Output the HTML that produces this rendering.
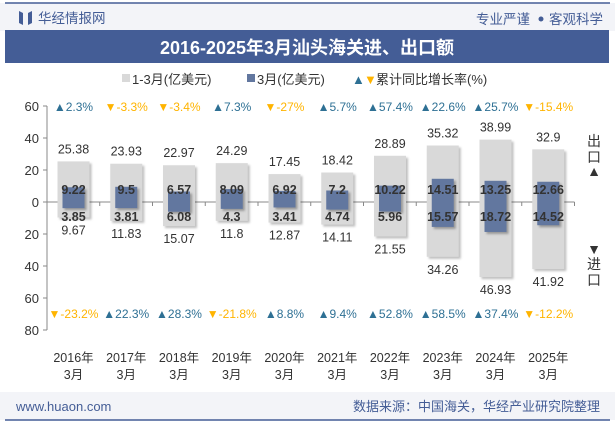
<!DOCTYPE html>
<html><head><meta charset="utf-8"><style>
body{margin:0;width:615px;height:427px;background:#fff;font-family:"Liberation Sans","Noto Sans CJK SC",sans-serif;overflow:hidden}
svg text{font-family:"Liberation Sans","Noto Sans CJK SC",sans-serif}
</style></head><body>
<svg id="c" width="615" height="427">
<rect x="0" y="3" width="615" height="28" fill="#f3f4f8"/>
<line x1="5" y1="3" x2="610" y2="3" stroke="#445d96" stroke-width="1.5"/>
<path d="M19 11 L23 13 L23 25 L19 23 Z M28 13 L32 11 L32 23 L28 25 Z" fill="#445d96"/>
<text x="38" y="23" font-size="13.5" fill="#445d96">华经情报网</text>
<text x="530" y="24" font-size="13.5" fill="#445d96" text-anchor="end">专业严谨</text>
<circle cx="541" cy="19" r="2.5" fill="#445d96"/>
<text x="603" y="24" font-size="13.5" fill="#445d96" text-anchor="end">客观科学</text>
<rect x="5" y="30" width="604" height="33" fill="#445d96"/>
<text x="307" y="54" font-size="18" font-weight="bold" fill="#fff" text-anchor="middle" font-family="Liberation Serif,Noto Serif CJK SC,serif">2016-2025年3月汕头海关进、出口额</text>
<g font-size="13" fill="#333">
<rect x="122" y="74" width="8" height="8" fill="#d9d9d9"/><text x="132" y="84">1-3月(亿美元)</text>
<rect x="247" y="74" width="8" height="8" fill="#62779f"/><text x="257" y="84">3月(亿美元)</text>
<text x="352" y="84" fill="#2e7094">▲</text><text x="364" y="84" fill="#ffb400">▼</text><text x="376" y="84">累计同比增长率(%)</text>
</g>
<rect x="0" y="392" width="615" height="28" fill="#f3f4f8"/>
<line x1="5" y1="420" x2="610" y2="420" stroke="#445d96" stroke-width="1.5"/>
<text x="16" y="411" font-size="13" fill="#445d96">www.huaon.com</text>
<text x="600" y="411" font-size="13" fill="#445d96" text-anchor="end">数据来源：中国海关，华经产业研究院整理</text>
<text x="594" y="146" font-size="14" fill="#333" text-anchor="middle">出</text>
<text x="594" y="162" font-size="14" fill="#333" text-anchor="middle">口</text>
<text x="594" y="176" font-size="14" fill="#333" text-anchor="middle">▲</text>
<text x="594" y="254" font-size="14" fill="#333" text-anchor="middle">▼</text>
<text x="594" y="269" font-size="14" fill="#333" text-anchor="middle">进</text>
<text x="594" y="285" font-size="14" fill="#333" text-anchor="middle">口</text>
<g id="plot"></g>
</svg>
<script>
const categories=["2016年","2017年","2018年","2019年","2020年","2021年","2022年","2023年","2024年","2025年"];
const exportQ1=[25.38,23.93,22.97,24.29,17.45,18.42,28.89,35.32,38.99,32.9];
const importQ1=[9.67,11.83,15.07,11.8,12.87,14.11,21.55,34.26,46.93,41.92];
const exportMar=[9.22,9.5,6.57,8.09,6.92,7.2,10.22,14.51,13.25,12.66];
const importMar=[3.85,3.81,6.08,4.3,3.41,4.74,5.96,15.57,18.72,14.52];
const exportGrowth=[2.3,-3.3,-3.4,7.3,-27,5.7,57.4,22.6,25.7,-15.4];
const importGrowth=[-23.2,22.3,28.3,-21.8,8.8,9.4,52.8,58.5,37.4,-12.2];
const yTicks=[60,40,20,0,-20,-40,-60,-80];
const NS="http://www.w3.org/2000/svg";
const g=document.getElementById('plot');
const y0=202,k=1.6,xL=47,step=52.75,x0=73.5;
const ys=v=>y0-v*k;
const xs=i=>x0+i*step;
function mk(t,a){const e=document.createElementNS(NS,t);for(const n in a)e.setAttribute(n,a[n]);g.appendChild(e);return e;}
let ax=mk('line',{x1:xL,y1:ys(60),x2:xL,y2:ys(-80),stroke:'#888'});


yTicks.forEach(v=>{
 mk('line',{x1:xL-4,y1:ys(v),x2:xL,y2:ys(v),stroke:'#888'});
 const t=mk('text',{x:xL-8,y:ys(v)+5,'font-size':13,fill:'#333','text-anchor':'end'});t.textContent=Math.abs(v);
 
 
});
let xa=mk('line',{x1:xL,y1:y0,x2:xL+step*10,y2:y0,stroke:'#888'});


for(let i=0;i<=10;i++)mk('line',{x1:xL+i*step,y1:y0,x2:xL+i*step,y2:y0+4,stroke:'#888'});
categories.forEach((c,i)=>{
 const x=xs(i);
 const r=mk('rect',{x:x-16,y:ys(exportQ1[i]),width:32,height:(exportQ1[i]+importQ1[i])*k,fill:'#d9d9d9',style:'filter:drop-shadow(2px 2px 1px rgba(0,0,0,.25))'});
 
 
 const b=mk('rect',{x:x-11,y:ys(exportMar[i]),width:22,height:(exportMar[i]+importMar[i])*k,fill:'#62779f',style:'filter:drop-shadow(2px 2px 1px rgba(0,0,0,.3))'});
 
 
 const lab=(txt,yy,bold)=>{const t=mk('text',{x:x,y:yy,'font-size':12.5,fill:'#333','text-anchor':'middle','font-weight':bold?'bold':'normal'});t.textContent=txt;return t;};
 let t1=lab(exportQ1[i],ys(exportQ1[i])-8);
 let t2=lab(importQ1[i],ys(-importQ1[i])+17);
 let t3=lab(exportMar[i],y0-8,true);
 let t4=lab(importMar[i],y0+19,true);
 const gr=(v,yy)=>{const t=mk('text',{x:x,y:yy,'font-size':12,'text-anchor':'middle',fill:v>=0?'#2e7094':'#ffb400'});t.textContent=(v>=0?'▲':'▼')+v+'%';return t;};
 let g1=gr(exportGrowth[i],111);
 let g2=gr(importGrowth[i],318);
 let c1=lab(c,362);
 lab('3月',379);
});
</script>
</body></html>
